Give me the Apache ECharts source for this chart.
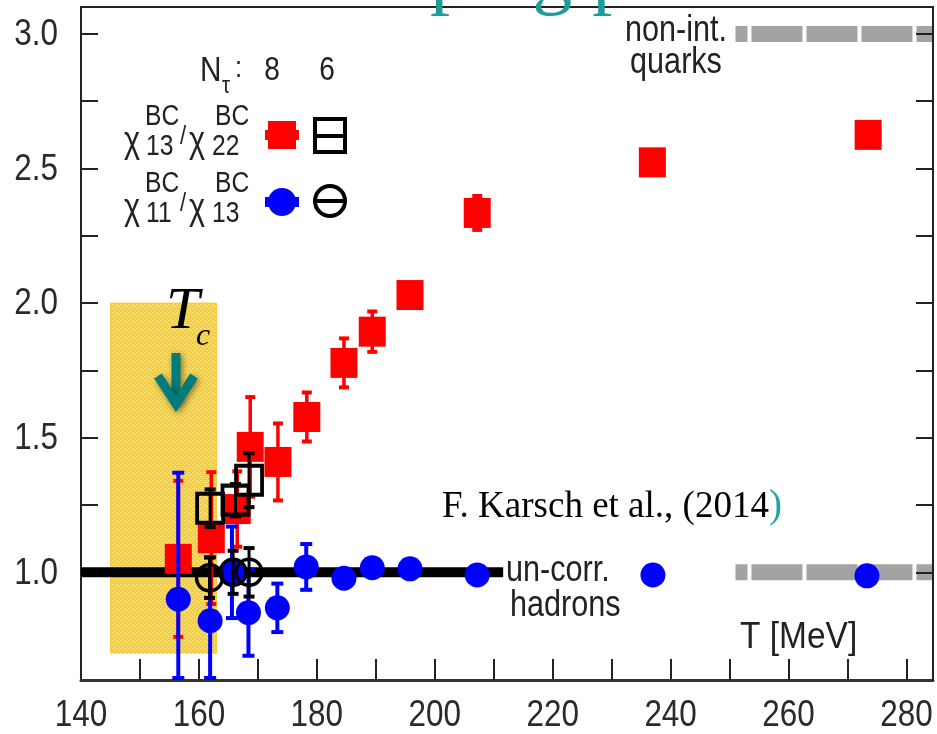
<!DOCTYPE html>
<html>
<head>
<meta charset="utf-8">
<script src="https://cdn.jsdelivr.net/npm/echarts@6/dist/echarts.min.js"></script>
<style>
  html, body { margin: 0; padding: 0; background: #fff; }
  #chart { width: 937px; height: 734px; }
</style>
</head>
<body>
<div id="chart"></div>
<script>
// chi13/chi22 ratio, N_tau = 8 (red squares)
const tempR8 = [156.5, 162.1, 166.5, 168.7, 173.4, 178.3, 184.6, 189.4, 195.8, 207.2, 236.9, 273.5];
const ratioR8 = [1.05, 1.127, 1.235, 1.466, 1.41, 1.577, 1.778, 1.894, 2.03, 2.335, 2.523, 2.625];
const errR8 = [0.29, 0.245, 0.14, 0.185, 0.143, 0.091, 0.091, 0.075, 0, 0.063, 0, 0];

// chi11/chi13 ratio, N_tau = 8 (blue circles)
const tempB8 = [156.5, 161.9, 165.6, 168.4, 173.3, 178.2, 184.6, 189.4, 195.8, 207.2, 237.0, 273.3];
const ratioB8 = [0.9, 0.82, 1.0, 0.85, 0.868, 1.02, 0.978, 1.017, 1.013, 0.99, 0.99, 0.987];
const errB8 = [0.47, 0.236, 0.17, 0.16, 0.09, 0.085, 0.03, 0, 0, 0, 0, 0];

// chi13/chi22 ratio, N_tau = 6 (open squares)
const tempS6 = [161.9, 166.2, 168.5];
const ratioS6 = [1.238, 1.268, 1.342];
const errS6 = [0.07, 0.06, 0.1];

// chi11/chi13 ratio, N_tau = 6 (open circles)
const tempC6 = [161.8, 165.8, 168.5];
const ratioC6 = [0.98, 1.0, 1.0];
const errC6 = [0.075, 0.08, 0.09];

// limiting cases
const hadronLineT = [140, 211.6];   // uncorrelated hadron gas: ratio 1
const quarkLineT = [251, 284.5];    // non-interacting quarks
const quarkLevels = [3.0, 1.0];
const hadronLevel = 1.0;

// crossover region T_c = 154 +- 9 MeV
const tcBandT = [145, 163];
const tcBandRatio = [0.7, 2.0];

// axes
const X_MIN = 140, X_MAX = 284.5;
const Y_MIN = 0.6, Y_MAX = 3.1;
const xTickLabels = [140, 160, 180, 200, 220, 240, 260, 280];
const yTickLabels = [1.0, 1.5, 2.0, 2.5, 3.0];
const yTicks = [1.0, 1.25, 1.5, 1.75, 2.0, 2.25, 2.5, 2.75, 3.0];

const SANS = "'Liberation Sans Narrow', 'Arial Narrow', 'Liberation Sans', Arial, sans-serif";
const SERIF = "'Liberation Serif', 'Times New Roman', serif";
const NARROW = 0.85;   // horizontal squeeze for the sans labels

// dotted yellow fill for the T_c band
const tile = document.createElement('canvas');
tile.width = 4; tile.height = 4;
(function () {
  const g = tile.getContext('2d');
  g.fillStyle = '#fbcf2a';
  g.fillRect(0, 0, 4, 4);
  g.fillStyle = '#fee898';
  g.fillRect(0, 0, 1, 1);
  g.fillRect(2, 2, 1, 1);
  g.fillStyle = '#fcdc5c';
  g.fillRect(1, 0, 1, 1);
  g.fillRect(3, 2, 1, 1);
})();

function errorBars(xs, ys, es, color, barW, capW, capH, z) {
  return {
    type: 'custom',
    z: z,
    silent: true,
    data: xs.map((x, i) => [x, ys[i], es[i]]),
    renderItem(params, api) {
      const x = api.value(0), y = api.value(1), e = api.value(2);
      if (!e) return null;
      const lo = Math.max(y - e, Y_MIN), hi = Math.min(y + e, Y_MAX);
      const p1 = api.coord([x, lo]), p2 = api.coord([x, hi]);
      const loClip = y - e < Y_MIN;
      const loCapY = loClip ? p1[1] - capH : p1[1] - capH / 2;
      return {
        type: 'group',
        children: [
          { type: 'line', shape: { x1: p1[0], y1: p1[1], x2: p2[0], y2: p2[1] },
            style: { stroke: color, lineWidth: barW } },
          { type: 'rect', shape: { x: p1[0] - capW / 2, y: loCapY, width: capW, height: capH },
            style: { fill: color } },
          { type: 'rect', shape: { x: p2[0] - capW / 2, y: p2[1] - capH / 2, width: capW, height: capH },
            style: { fill: color } }
        ]
      };
    }
  };
}

// text element anchored at (x, y); sans text is squeezed horizontally
function txt(text, x, y, size, opts) {
  opts = opts || {};
  const family = opts.family || SANS;
  return {
    type: 'text', z: 100, silent: true,
    x: x, y: y,
    scaleX: opts.scaleX != null ? opts.scaleX : (family === SANS ? NARROW : 1),
    style: {
      text: text, x: 0, y: 0,
      font: (opts.style || 'normal') + ' ' + size + 'px ' + family,
      fill: opts.fill || '#222',
      align: opts.align || 'left',
      verticalAlign: 'middle'
    }
  };
}

const chart = echarts.init(document.getElementById('chart'), null, { renderer: 'canvas' });

// legend block: labels, superscripts and subscripts
const legendGraphics = [
  txt('N', 200, 71, 35),
  txt('\u03c4', 222, 86, 24),
  txt(':', 235, 69, 30),
  txt('8', 272, 71, 33, { align: 'center' }),
  txt('6', 327, 71, 33, { align: 'center' }),

  txt('\u03c7', 124, 142, 36),
  txt('BC', 145, 117, 29),
  txt('13', 146, 147, 29),
  txt('/', 180, 137, 26),
  txt('\u03c7', 189, 142, 36),
  txt('BC', 215, 117, 29),
  txt('22', 212, 147, 29),

  txt('\u03c7', 124, 209, 36),
  txt('BC', 145, 184, 29),
  txt('11', 146, 214, 29),
  txt('/', 180, 204, 26),
  txt('\u03c7', 189, 209, 36),
  txt('BC', 215, 184, 29),
  txt('13', 212, 214, 29),

  // legend samples
  { type: 'rect', z: 100, shape: { x: 265, y: 130, width: 34, height: 10 }, style: { fill: '#ff0000' } },
  { type: 'rect', z: 100, shape: { x: 268, y: 121, width: 28, height: 28 }, style: { fill: '#ff0000' } },
  { type: 'rect', z: 100, shape: { x: 315, y: 119, width: 30, height: 33 }, style: { fill: 'none', stroke: '#000', lineWidth: 4 } },
  { type: 'line', z: 100, shape: { x1: 315, y1: 136, x2: 345, y2: 136 }, style: { stroke: '#000', lineWidth: 4 } },
  { type: 'rect', z: 100, shape: { x: 265, y: 197, width: 34, height: 10 }, style: { fill: '#0000ff' } },
  { type: 'circle', z: 100, shape: { cx: 282, cy: 202, r: 14 }, style: { fill: '#0000ff' } },
  { type: 'circle', z: 100, shape: { cx: 330, cy: 201, r: 15 }, style: { fill: 'none', stroke: '#000', lineWidth: 4 } },
  { type: 'line', z: 100, shape: { x1: 315, y1: 201, x2: 345, y2: 201 }, style: { stroke: '#000', lineWidth: 4 } }
];

const arrowStyle = {
  stroke: '#007d7a', lineWidth: 9, fill: null, lineJoin: 'miter',
  shadowBlur: 6, shadowColor: 'rgba(0,0,0,0.45)', shadowOffsetX: 2, shadowOffsetY: 2
};

const annotationGraphics = [
  txt('non-int.', 676, 31, 36, { align: 'center' }),
  txt('quarks', 676, 63, 36, { align: 'center' }),
  txt('un-corr.', 506, 571, 36),
  txt('hadrons', 510, 606, 36),
  txt('T [MeV]', 740, 638, 36, { scaleX: 0.93 }),
  {
    type: 'text', z: 100, silent: true,
    style: {
      text: '{k|F. Karsch et al., (2014}{p|)}',
      x: 442, y: 507, verticalAlign: 'middle',
      rich: {
        k: { font: 'normal 37px ' + SERIF, fill: '#000' },
        p: { font: 'normal 39px ' + SERIF, fill: '#26a3a3' }
      }
    }
  },
  // slide heading above the frame, only the lower part shows
  {
    type: 'text', z: 100, silent: true,
    style: { text: 'ping p', x: 430, y: -22, verticalAlign: 'middle',
      font: 'normal 80px ' + SERIF, fill: '#1e9c9c' }
  },
  // T_c marker
  txt('T', 166, 312, 60, { family: SERIF, style: 'italic', fill: '#000' }),
  txt('c', 196, 337, 32, { family: SERIF, style: 'italic', fill: '#000' }),
  { type: 'line', z: 100, silent: true, shape: { x1: 176, y1: 353, x2: 176, y2: 402 }, style: Object.assign({}, arrowStyle) },
  { type: 'polyline', z: 100, silent: true, shape: { points: [[158, 376], [176, 404], [194, 376]] }, style: Object.assign({}, arrowStyle) }
];

const option = {
  animation: false,
  backgroundColor: '#fff',
  textStyle: { fontFamily: SANS },
  grid: {
    left: 81, right: 4, top: 7, bottom: 54,
    show: true, borderColor: '#222', borderWidth: 2, backgroundColor: 'transparent'
  },
  xAxis: {
    type: 'value', min: X_MIN, max: X_MAX, interval: 10,
    axisLine: { show: true, onZero: false, lineStyle: { color: '#333', width: 3 } },
    axisTick: { show: true, inside: true, length: 21, lineStyle: { color: '#222', width: 2 } },
    axisLabel: { show: false },
    splitLine: { show: false }
  },
  yAxis: [
    {
      type: 'value', min: Y_MIN, max: Y_MAX, position: 'left',
      axisLine: { show: true, onZero: false, lineStyle: { color: '#222', width: 2 } },
      axisTick: { show: true, inside: true, length: 17, customValues: yTicks, lineStyle: { color: '#222', width: 2 } },
      axisLabel: { show: false },
      splitLine: { show: false }
    },
    {
      type: 'value', min: Y_MIN, max: Y_MAX, position: 'right', z: 5,
      axisLine: { show: true, onZero: false, lineStyle: { color: '#222', width: 2 } },
      axisTick: { show: true, inside: true, length: 17, customValues: yTicks, lineStyle: { color: '#222', width: 2 } },
      axisLabel: { show: false },
      splitLine: { show: false }
    }
  ],
  series: [
    {
      // T_c band
      type: 'custom', z: 1, silent: true,
      data: [[tcBandT[0], tcBandT[1], tcBandRatio[0], tcBandRatio[1]]],
      renderItem(params, api) {
        const a = api.coord([api.value(0), api.value(3)]);
        const b = api.coord([api.value(1), api.value(2)]);
        return {
          type: 'rect',
          shape: { x: a[0], y: a[1], width: b[0] - a[0], height: b[1] - a[1] },
          style: { fill: { image: tile, repeat: 'repeat' }, stroke: '#f6cc3a', lineWidth: 1 }
        };
      }
    },
    {
      type: 'line', z: 2, silent: true, symbol: 'none',
      data: hadronLineT.map(t => [t, hadronLevel]),
      lineStyle: { color: '#000', width: 10, cap: 'butt' }
    },
    {
      type: 'line', z: 2, silent: true, symbol: 'none',
      data: quarkLineT.map(t => [t, quarkLevels[0]]),
      lineStyle: { color: '#a3a3a3', width: 16, type: [51, 4], dashOffset: 39, cap: 'butt' }
    },
    {
      type: 'line', z: 2, silent: true, symbol: 'none',
      data: quarkLineT.map(t => [t, quarkLevels[1]]),
      lineStyle: { color: '#a3a3a3', width: 16, type: [51, 4], dashOffset: 39, cap: 'butt' }
    },
    errorBars(tempR8, ratioR8, errR8, '#ff0000', 3.5, 10, 4, 3),
    {
      type: 'scatter', z: 4, silent: true, symbol: 'rect', symbolSize: [27, 30],
      data: tempR8.map((t, i) => [t, ratioR8[i]]),
      itemStyle: { color: '#ff0000', opacity: 1 }
    },
    errorBars(tempB8, ratioB8, errB8, '#0000ff', 4, 12, 4, 5),
    {
      type: 'scatter', z: 6, silent: true, symbol: 'circle', symbolSize: 25,
      data: tempB8.map((t, i) => [t, ratioB8[i]]),
      itemStyle: { color: '#0000ff', opacity: 1 }
    },
    errorBars(tempS6, ratioS6, errS6, '#000', 3, 11, 4, 7),
    {
      type: 'scatter', z: 7, silent: true, symbol: 'rect', symbolSize: [26, 29],
      data: tempS6.map((t, i) => [t, ratioS6[i]]),
      itemStyle: { color: 'rgba(0,0,0,0)', borderColor: '#000', borderWidth: 4, opacity: 1 }
    },
    errorBars(tempC6, ratioC6, errC6, '#000', 3, 11, 4, 8),
    {
      type: 'scatter', z: 8, silent: true, symbol: 'circle', symbolSize: 26,
      data: tempC6.map((t, i) => [t, ratioC6[i]]),
      itemStyle: { color: 'rgba(0,0,0,0)', borderColor: '#000', borderWidth: 3.5, opacity: 1 }
    }
  ]
};

chart.setOption(option);

// tick labels placed through the axis scales, in the narrow sans face
const tickLabelGraphics = [];
xTickLabels.forEach(v => {
  const p = chart.convertToPixel({ xAxisIndex: 0 }, v);
  tickLabelGraphics.push(txt(String(v), p, 716, 37, { align: 'center', fill: '#2a2a2a' }));
});
yTickLabels.forEach(v => {
  const p = chart.convertToPixel({ yAxisIndex: 0 }, v);
  tickLabelGraphics.push(txt(v.toFixed(1), 58, p + 1, 37, { align: 'right', fill: '#2a2a2a' }));
});

chart.setOption({ graphic: { elements: legendGraphics.concat(annotationGraphics, tickLabelGraphics) } });
</script>
</body>
</html>
